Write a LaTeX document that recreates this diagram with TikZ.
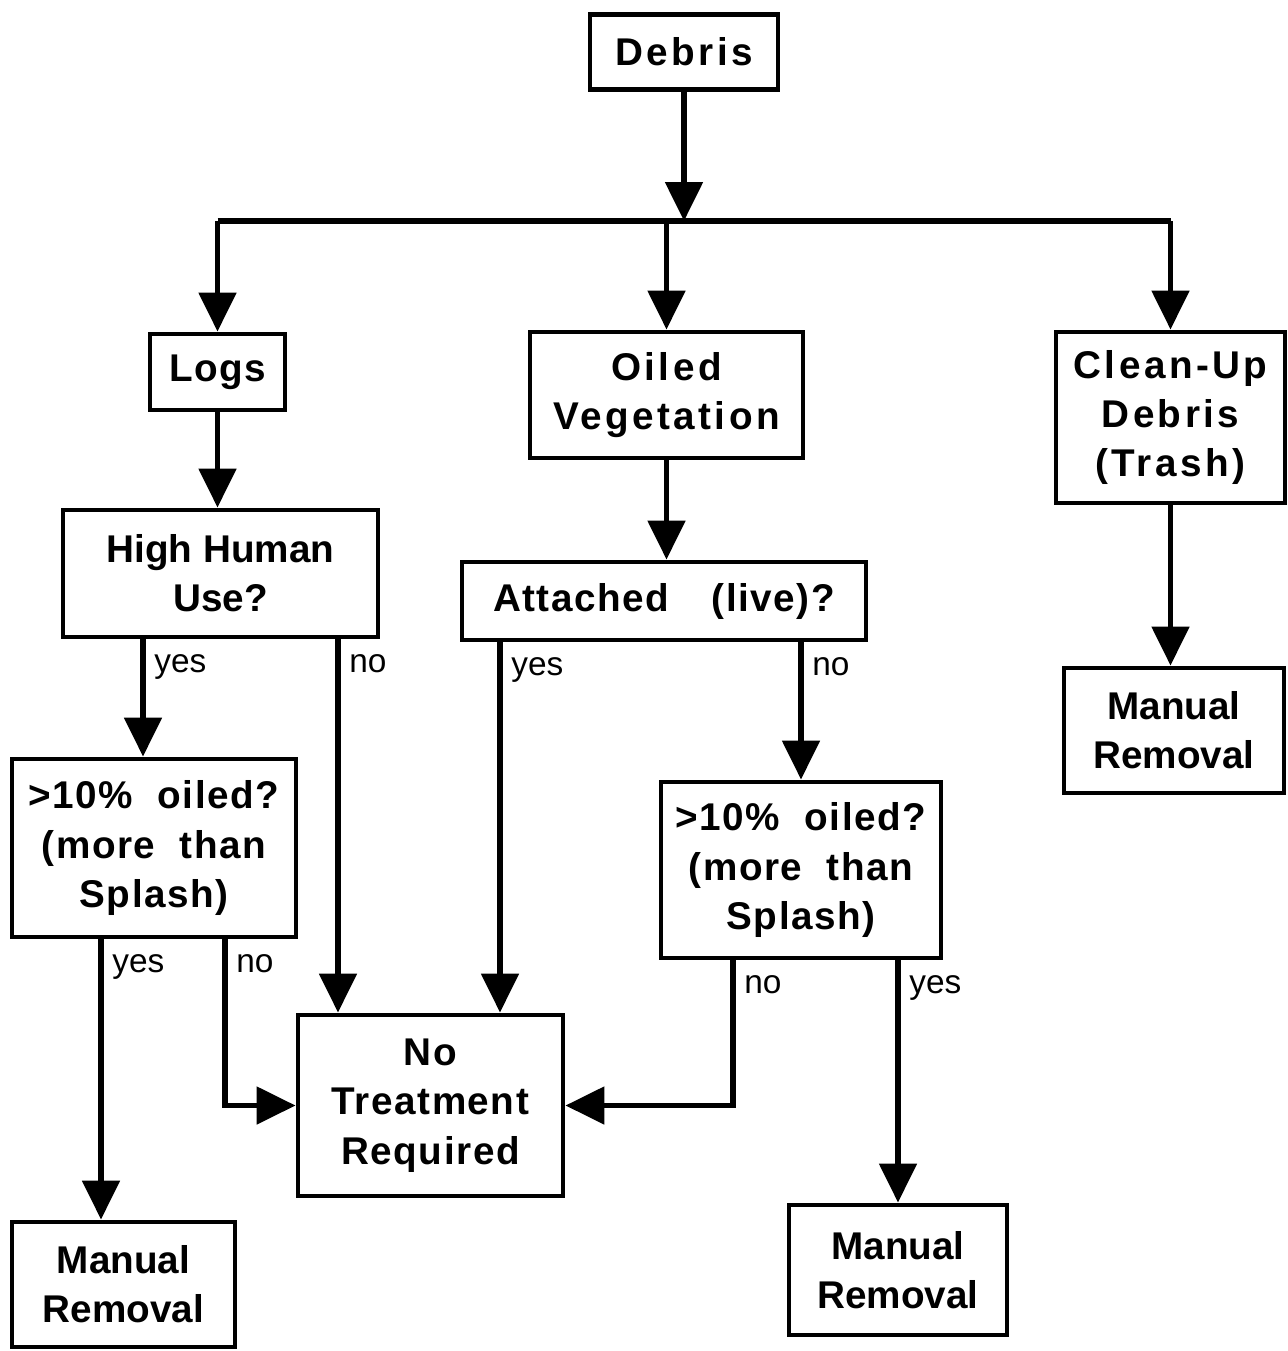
\documentclass[tikz,border=0pt]{standalone}
\usepackage{fontspec}
\setmainfont{Liberation Sans}
\newfontfamily\widefont[LetterSpace=9]{Liberation Sans}
\newfontfamily\midfont[LetterSpace=4]{Liberation Sans}
\usetikzlibrary{arrows.meta}

\begin{document}
\begin{tikzpicture}[
  box/.style={rectangle, draw, line width=2.8pt, align=center, inner sep=0pt, font=\fontsize{22}{28}\selectfont\bfseries},
  wide/.style={box, font=\fontsize{22}{28}\selectfont\widefont\bfseries},
  mid/.style={box, font=\fontsize{22}{28}\selectfont\midfont\bfseries},
  arr/.style={line width=3pt, -{Triangle[length=0.78cm, width=0.74cm]}},
  lin/.style={line width=3pt},
  lbl/.style={font=\fontsize{19}{22}\selectfont, anchor=north west, inner xsep=5pt, inner ysep=7pt}
]
\useasboundingbox (0,0) rectangle (25.76,-27.02);

\node[wide, minimum width=3.76cm, minimum height=1.5cm] (debris) at (13.68,-1.04) {Debris};
\node[mid, minimum width=2.7cm, minimum height=1.52cm] (logs) at (4.35,-7.44) {Logs};
\node[wide, minimum width=5.46cm, minimum height=2.52cm] (oilveg) at (13.33,-7.9) {Oiled\\Vegetation};
\node[wide, minimum width=4.58cm, minimum height=3.42cm] (trash) at (23.41,-8.35) {Clean-Up\\Debris\\(Trash)};
\node[box, minimum width=6.3cm, minimum height=2.54cm] (human) at (4.41,-11.47) {High Human\\Use?};
\node[mid, minimum width=8.08cm, minimum height=1.56cm] (attached) at (13.28,-12.02) {Attached\hspace{1.1em}(live)?};
\node[box, minimum width=4.4cm, minimum height=2.5cm] (mantrash) at (23.48,-14.61) {Manual\\Removal};
\node[mid, minimum width=5.68cm, minimum height=3.56cm] (oiledA) at (3.08,-16.96) {>10\%\ \ oiled?\\(more\ \ than\\Splash)};
\node[mid, minimum width=5.6cm, minimum height=3.52cm] (oiledB) at (16.02,-17.4) {>10\%\ \ oiled?\\(more\ \ than\\Splash)};
\node[mid, minimum width=5.3cm, minimum height=3.62cm] (notreat) at (8.61,-22.11) {No\\Treatment\\Required};
\node[box, minimum width=4.46cm, minimum height=2.5cm] (manlogs) at (2.47,-25.69) {Manual\\Removal};
\node[box, minimum width=4.36cm, minimum height=2.6cm] (manveg) at (17.96,-25.4) {Manual\\Removal};
\coordinate (split) at (13.68,-4.42);

\draw[arr] (debris.south) -- (split);
\draw[lin] (logs |- split) -- (trash |- split);
\draw[arr] (logs |- split) -- (logs.north);
\draw[arr] (oilveg |- split) -- (oilveg.north);
\draw[arr] (trash |- split) -- (trash.north);
\draw[arr] (logs.south) -- (logs.south |- human.north);
\draw[arr] (oilveg.south) -- (oilveg.south |- attached.north);
\draw[arr] (trash.south) -- (trash.south |- mantrash.north);

\draw[arr] ([xshift=-1.55cm]human.south) -- node[lbl, pos=0] {yes} ([xshift=-1.55cm]human.south |- oiledA.north);
\draw[arr] ([xshift=2.35cm]human.south) -- node[lbl, pos=0] {no} ([xshift=2.35cm]human.south |- notreat.north);
\draw[arr] ([xshift=-3.28cm]attached.south) -- node[lbl, pos=0] {yes} ([xshift=-3.28cm]attached.south |- notreat.north);
\draw[arr] (oiledB.north |- attached.south) -- node[lbl, pos=0] {no} (oiledB.north);
\draw[arr] ([xshift=-1.06cm]oiledA.south) -- node[lbl, pos=0] {yes} ([xshift=-1.06cm]oiledA.south |- manlogs.north);
\draw[arr] ([xshift=1.42cm]oiledA.south) |- node[lbl, pos=0] {no} (notreat.west);
\draw[arr] ([xshift=-1.36cm]oiledB.south) |- node[lbl, pos=0] {no} (notreat.east);
\draw[arr] (manveg.north |- oiledB.south) -- node[lbl, pos=0] {yes} (manveg.north);

\end{tikzpicture}
\end{document}
